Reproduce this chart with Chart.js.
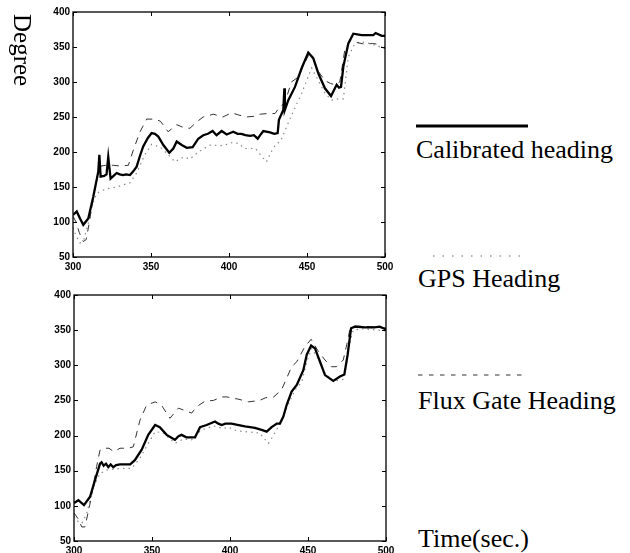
<!DOCTYPE html>
<html>
<head>
<meta charset="utf-8">
<script src="https://cdn.jsdelivr.net/npm/chart.js@4/dist/chart.umd.min.js"></script>
<style>
  html,body{margin:0;padding:0;background:#fff;}
  body{width:630px;height:553px;position:relative;overflow:hidden;font-family:"Liberation Serif","Times New Roman",serif;}
  .cv{position:absolute;left:0;}
  .lbl{position:absolute;font-size:26px;line-height:26px;white-space:nowrap;color:#000;}
  .sample{position:absolute;}
</style>
</head>
<body>
<canvas id="c1" class="cv" width="400" height="280" style="top:0px;width:400px;height:280px"></canvas>
<canvas id="c2" class="cv" width="400" height="270" style="top:283px;width:400px;height:270px"></canvas>

<div class="lbl" style="left:35px;top:14px;font-size:25px;line-height:25px;transform-origin:0 0;transform:rotate(90deg);">Degree</div>

<svg class="sample" style="left:410px;top:119px" width="130" height="14"><line x1="6" y1="7" x2="118" y2="7" stroke="#000" stroke-width="3"/></svg>
<div class="lbl" style="left:416px;top:137px">Calibrated heading</div>

<svg class="sample" style="left:410px;top:250px" width="130" height="12"><line x1="23" y1="6" x2="118" y2="6" stroke="#999" stroke-width="1.3" stroke-dasharray="1.5 8"/></svg>
<div class="lbl" style="left:418px;top:266px">GPS Heading</div>

<svg class="sample" style="left:410px;top:369px" width="130" height="12"><line x1="8" y1="6" x2="118" y2="6" stroke="#333" stroke-width="1.2" stroke-dasharray="4.5 6.5"/></svg>
<div class="lbl" style="left:418px;top:388px">Flux Gate Heading</div>

<div class="lbl" style="left:418px;top:526px">Time(sec.)</div>

<script>
// ---- axis ticks ----
const xTicks = [300, 350, 400, 450, 500];
const yTicks = [50, 100, 150, 200, 250, 300, 350, 400];

// ---- top plot ----
const topCalT = [300,302.4,304.5,306.6,309.8,313,316.2,316.9,317.7,320,321.5,322.6,324.1,326,328,330,332,334,336.5,338.5,340.8,343,345,348,350.4,352.5,354.7,357.9,361.7,364.3,366.5,369.7,372.9,376.7,380.3,383.5,386.5,389.5,392,395.3,398.5,402.7,405.5,408,410.5,413.5,416,418.4,420,422,426.3,429,431.2,432,434.8,435.5,435.8,438,442.3,446.6,450.8,454,457.3,461.5,465.4,469,470.5,471.8,473.3,476.5,479.7,485,490,492.5,494,497.9,500];
const topCalV = [110,115,105,96,105,136,172,196,165,166,168,193,162,166,170,168,167,168,167,172,179,195,208,220,227,226,222,210,199,205,215,210,206,207,219,224,226,230,224,230,225,229,226,226,224,223,224,219,224,230,228,226,227,246,260,291,260,274,293,320,342,334,312,291,280,296,292,293,322,355,369,367,367,367,370,366,366];

const topFluxT = [300,302,304,306.6,308.5,310.5,313,316,318,321,326,330,335.5,338.7,343,347.2,352.5,356,361,366.5,371.8,375,379.3,383.5,389.9,396,401.7,406,411,416,420,425,429.5,432.7,435.8,440,444.4,448,451,454,457.3,461.5,465,468,471,474.4,478,482.7,487,492,495.5,498.7,500];
const topFluxV = [108,100,85,72,75,100,135,170,180,181,181,180,181,203,229,247,247,244,229,239,234,234,243,250,254,250,256,253,250,251,254,255,255,265,270,300,307,325,338,332,315,302,298,296,300,348,360,356,354,355,354,349,348];

const topGpsT = [300,302,304.5,307,310,312.5,315.2,318.5,323,328,332,336.5,340.8,346,350.4,356,361,365.4,371,375,380.3,387.8,396,402.7,406,410,417,422,424,427,430,433,437,439,446.6,453,457.3,461.5,465.8,470,473.3,476.5,480,484,490,497,500];
const topGpsV = [92,80,70,75,100,125,141,145,148,150,153,156,170,196,211,207,196,186,193,190,200,210,209,214,212,205,205,191,186,200,211,215,236,247,284,320,302,284,274,276,276,336,352,358,355,350,350];

// ---- bottom plot ----
const botCalT = [300,302.8,306.4,310.3,313.5,316.7,317.7,319,320.5,322,323.5,325.2,327,329.5,333,336,339,343.4,347.6,352,355,359.4,364.7,367,369,372,377.6,380.8,385,390.4,392.5,394.7,397,401,403.2,409.6,416,420.3,423.5,426.7,430,432,434.2,436.3,439.5,442.8,447,449.2,452,454.5,457.7,460.9,466.2,470.5,473.3,475.4,477.6,480,486.5,492.5,496,499.4,500];
const botCalV = [104,108,101,113,137,160,162,157,160,155,159,155,158,159,159,159,165,180,201,215,212,201,194,199,201,197.5,197.5,212,215,220,217,215,217,217,216,213,211,208,205.6,212,217,217,227,243.5,262.5,272,293,315,328,324,305,286,277.7,284,287,315,352.6,355,354,354,355,351.6,351];

const botFluxT = [300,302.5,305,307,310,312.5,314.5,316.7,319,322.4,325.6,329.5,334.8,338,342.3,346.6,352,356,361.5,366.9,370,375.4,378.6,384,389.4,394.7,398,402,405,412,419,423,428,433,436.3,439.5,442.8,448,452,456.3,460.9,465,468.3,472.6,474.8,477,480,490,500];
const botFluxV = [90,82,70,70,100,130,156,179.5,182,182,177,182,182,184,222,243.5,248,243.5,224.6,239,236.5,232,241,249,250,255,255,253,252,248,250,254,255,265,281.5,298,305,326.5,337,321,307.5,298,298,307.5,329,352.6,356,355,353];

const botGpsT = [300,302.5,305,308,310,312.4,316.7,321,329.5,337,342.3,347.6,352,357,364.7,370,375.4,381.6,389.3,395.7,399,402.1,405,414,419,424.6,427.8,432,436.3,441.7,446,449.2,452.4,456.3,460.9,466.2,472.6,475.8,479,485,495,500];
const botGpsV = [85,78,75,88,105,127,146,151,153,153.5,167.7,189,205.6,204,189,195,194,208,213.6,210,212,208.6,206.5,204.7,203.5,189,200,217,239,265,276,305,324,310,289,277,280,324,350,352,350,349];

const pts = (ts, vs) => ts.map((t, i) => ({x: t, y: vs[i]}));

const framePlugin = {
  id: 'frame',
  afterDraw(chart) {
    const {ctx, chartArea: a, scales: {x, y}} = chart;
    ctx.save();
    ctx.strokeStyle = '#000';
    ctx.lineWidth = 1.3;
    ctx.strokeRect(a.left, a.top, a.width, a.height);
    ctx.lineWidth = 1;
    ctx.beginPath();
    x.ticks.forEach(t => {
      const p = Math.round(x.getPixelForValue(t.value)) + 0.5;
      ctx.moveTo(p, a.bottom); ctx.lineTo(p, a.bottom - 4);
      ctx.moveTo(p, a.top); ctx.lineTo(p, a.top + 4);
    });
    y.ticks.forEach(t => {
      const p = Math.round(y.getPixelForValue(t.value)) + 0.5;
      ctx.moveTo(a.left, p); ctx.lineTo(a.left + 4, p);
      ctx.moveTo(a.right, p); ctx.lineTo(a.right - 4, p);
    });
    ctx.stroke();
    ctx.restore();
  }
};

function makeChart(id, cal, flux, gps, leftW, rightPad, xH) {
  const tickFont = {family: '"Liberation Sans", Arial, sans-serif', size: 10, weight: 'bold'};
  return new Chart(document.getElementById(id), {
    type: 'line',
    data: {
      datasets: [
        {label: 'GPS Heading', data: gps, borderColor: '#8a8a8a', borderWidth: 1.2, borderDash: [1.5, 4], pointRadius: 0, tension: 0, order: 3},
        {label: 'Flux Gate Heading', data: flux, borderColor: '#333', borderWidth: 1, borderDash: [7, 6], pointRadius: 0, tension: 0, order: 2},
        {label: 'Calibrated heading', data: cal, borderColor: '#000', borderWidth: 2.3, pointRadius: 0, tension: 0, order: 1}
      ]
    },
    options: {
      responsive: false,
      animation: false,
      devicePixelRatio: 1,
      layout: {padding: {left: 0, right: rightPad, top: 12, bottom: 0}},
      plugins: {legend: {display: false}, tooltip: {enabled: false}},
      scales: {
        x: {
          type: 'linear', min: xTicks[0], max: xTicks[xTicks.length - 1],
          afterBuildTicks: s => { s.ticks = xTicks.map(v => ({value: v})); },
          afterFit: s => { s.height = xH; },
          grid: {display: false, drawTicks: false},
          border: {display: false},
          ticks: {font: tickFont, color: '#000', padding: 4, autoSkip: false, maxRotation: 0}
        },
        y: {
          type: 'linear', min: yTicks[0], max: yTicks[yTicks.length - 1],
          afterBuildTicks: s => { s.ticks = yTicks.map(v => ({value: v})); },
          afterFit: s => { s.width = leftW; },
          grid: {display: false, drawTicks: false},
          border: {display: false},
          ticks: {font: tickFont, color: '#000', padding: 3}
        }
      }
    },
    plugins: [framePlugin]
  });
}

makeChart('c1', pts(topCalT, topCalV), pts(topFluxT, topFluxV), pts(topGpsT, topGpsV), 73, 15, 23);
makeChart('c2', pts(botCalT, botCalV), pts(botFluxT, botFluxV), pts(botGpsT, botGpsV), 74, 14, 12);
</script>
</body>
</html>
